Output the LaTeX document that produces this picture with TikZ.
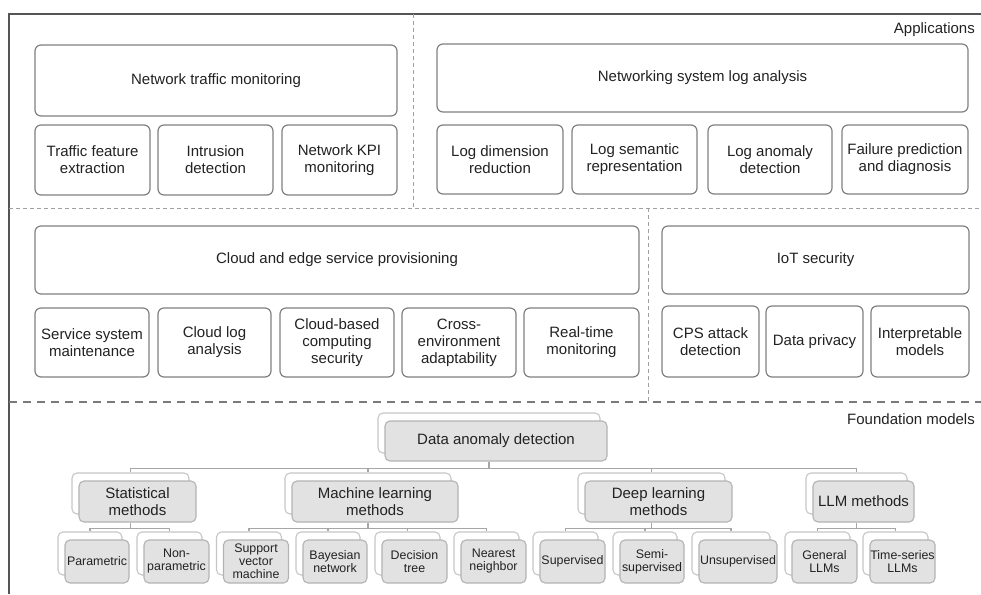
\documentclass[tikz,border=0pt]{standalone}
\usepackage{fontspec}
\setmainfont{Liberation Sans}
\usepackage{tikz}
\usetikzlibrary{calc}

\definecolor{txt}{HTML}{222222}
\definecolor{boxgray}{HTML}{808080}
\definecolor{backgray}{HTML}{C6C6C6}
\definecolor{frontgray}{HTML}{B3B3B3}
\definecolor{fillgray}{HTML}{E2E2E2}
\definecolor{linkgray}{HTML}{A6A6A6}
\definecolor{sepgray}{HTML}{A0A0A0}
\definecolor{sepdark}{HTML}{7A7A7A}
\definecolor{framegray}{HTML}{555555}

\tikzset{
  appbox/.style={draw=boxgray, line width=1.2pt, rounded corners=6pt, fill=white,
    inner sep=1pt, align=center, text=txt, font=\fontsize{15}{17}\selectfont},
  back/.style={draw=backgray, line width=1.1pt, rounded corners=5pt, fill=white,
    inner sep=0pt, minimum width=#1},
  front/.style={draw=frontgray, line width=1.1pt, rounded corners=5pt, fill=fillgray,
    inner sep=0pt, align=center, text=txt, minimum width=#1, xshift=7pt, yshift=-8pt},
  big/.style={minimum height=41pt, font=\fontsize{15}{17}\selectfont},
  small/.style={minimum height=43pt, font=\fontsize{12.4}{13}\selectfont},
  link/.style={draw=linkgray, line width=1.1pt},
  sep/.style={draw=sepgray, line width=0.9pt, dash pattern=on 4pt off 3pt},
  septhick/.style={draw=sepdark, line width=1.8pt, dash pattern=on 8pt off 6pt},
  lbl/.style={text=txt, font=\fontsize{15}{17}\selectfont, inner sep=0pt}
}

\begin{document}
\begin{tikzpicture}[x=1pt,y=-1pt]
  \useasboundingbox (0,0) rectangle (981,594);
  % 外框与分隔线
  \draw[framegray, line width=2pt] (9,594) -- (9,14) -- (981,14);
  \draw[sep] (9,208) -- (981,208);
  \draw[sep] (413,14) -- (413,208);
  \draw[sep] (648,208) -- (648,402);
  \draw[septhick] (9,402) -- (981,402);

  \node[lbl, anchor=east] (app) at (975,30) {Applications};
  \node[lbl, anchor=east] (fm) at (975,419) {Foundation models};

  % 网络流量监测
  \node[appbox, minimum width=362pt, minimum height=71pt] (ntm) at (216,80.5) {Network traffic monitoring};
  \node[appbox, minimum width=115pt, minimum height=70pt] (tfe) at (92.5,160) {Traffic feature\\extraction};
  \node[appbox, minimum width=115pt, minimum height=70pt] (ind) at (215.5,160) {Intrusion\\detection};
  \node[appbox, minimum width=115pt, minimum height=70pt] (kpi) at (339.5,160) {Network KPI\\monitoring};

  % 日志分析
  \node[appbox, minimum width=531pt, minimum height=68pt] (nsla) at (702.5,78) {Networking system log analysis};
  \node[appbox, minimum width=126pt, minimum height=69pt] (ldr) at (500,159.5) {Log dimension\\reduction};
  \node[appbox, minimum width=125pt, minimum height=69pt] (lsr) at (634.5,159.5) {Log semantic\\representation};
  \node[appbox, minimum width=124pt, minimum height=69pt] (lad) at (770,159.5) {Log anomaly\\detection};
  \node[appbox, minimum width=126pt, minimum height=69pt] (fpd) at (905,159.5) {Failure prediction\\and diagnosis};

  % 云与边缘
  \node[appbox, minimum width=604pt, minimum height=68pt] (cesp) at (337,260) {Cloud and edge service provisioning};
  \node[appbox, minimum width=114pt, minimum height=69pt] (ssm) at (92,342.5) {Service system\\maintenance};
  \node[appbox, minimum width=113pt, minimum height=69pt] (cla) at (214.5,342.5) {Cloud log\\analysis};
  \node[appbox, minimum width=114pt, minimum height=69pt] (cbcs) at (337,342.5) {Cloud-based\\computing\\security};
  \node[appbox, minimum width=114pt, minimum height=69pt] (cea) at (459,342.5) {Cross-\\environment\\adaptability};
  \node[appbox, minimum width=115pt, minimum height=69pt] (rtm) at (581.5,342.5) {Real-time\\monitoring};

  % 物联网安全
  \node[appbox, minimum width=307pt, minimum height=68pt] (iot) at (815.5,260) {IoT security};
  \node[appbox, minimum width=97pt, minimum height=71pt] (cps) at (710.5,341.5) {CPS attack\\detection};
  \node[appbox, minimum width=97pt, minimum height=71pt] (dp) at (814.5,341.5) {Data privacy};
  \node[appbox, minimum width=98pt, minimum height=71pt] (im) at (920,341.5) {Interpretable\\models};

  % 基础模型树
  \node[back=222pt, minimum height=40pt] (root) at (489,433) {};
  \node[front=222pt, minimum height=40pt, font=\fontsize{15}{17}\selectfont] (f-root) at (root) {Data anomaly detection};

  \node[back=117pt, big] (stat) at (130.5,493.5) {};
  \node[front=117pt, big] (f-stat) at (stat) {Statistical\\methods};
  \node[back=166pt, big] (ml) at (368,493.5) {};
  \node[front=166pt, big] (f-ml) at (ml) {Machine learning\\methods};
  \node[back=147pt, big] (dl) at (651.5,493.5) {};
  \node[front=147pt, big] (f-dl) at (dl) {Deep learning\\methods};
  \node[back=101pt, big] (llm) at (856.5,493.5) {};
  \node[front=101pt, big] (f-llm) at (llm) {LLM methods};

  \node[back=64pt, small] (par) at (90,553.5) {};
  \node[front=64pt, small] (f-par) at (par) {Parametric};
  \node[back=65pt, small] (npar) at (169.5,553.5) {};
  \node[front=65pt, small] (f-npar) at (npar) {Non-\\parametric};
  \node[back=65pt, small] (svm) at (249,553.5) {};
  \node[front=65pt, small] (f-svm) at (svm) {Support\\vector\\machine};
  \node[back=64pt, small] (bay) at (328,553.5) {};
  \node[front=64pt, small] (f-bay) at (bay) {Bayesian\\network};
  \node[back=65pt, small] (dt) at (407.5,553.5) {};
  \node[front=65pt, small] (f-dt) at (dt) {Decision\\tree};
  \node[back=65pt, small] (nn) at (486.5,553.5) {};
  \node[front=65pt, small] (f-nn) at (nn) {Nearest\\neighbor};
  \node[back=65pt, small] (sup) at (565.5,553.5) {};
  \node[front=65pt, small] (f-sup) at (sup) {Supervised};
  \node[back=64pt, small] (semi) at (645,553.5) {};
  \node[front=64pt, small] (f-semi) at (semi) {Semi-\\supervised};
  \node[back=78pt, small] (uns) at (731,553.5) {};
  \node[front=78pt, small] (f-uns) at (uns) {Unsupervised};
  \node[back=65pt, small] (gen) at (817.5,553.5) {};
  \node[front=65pt, small] (f-gen) at (gen) {General\\LLMs};
  \node[back=65pt, small] (ts) at (895.5,553.5) {};
  \node[front=65pt, small] (f-ts) at (ts) {Time-series\\LLMs};

  % 连线
  \foreach \c in {stat,ml,dl,llm}
    \draw[link] (root |- f-root.south) -- ++(0,7) -| (\c.north);
  \foreach \p/\c in {stat/par,stat/npar,ml/svm,ml/bay,ml/dt,ml/nn,dl/sup,dl/semi,dl/uns,llm/gen,llm/ts}
    \draw[link] (\p |- f-\p.south) -- ++(0,6) -| (\c.north);
\end{tikzpicture}
\end{document}
